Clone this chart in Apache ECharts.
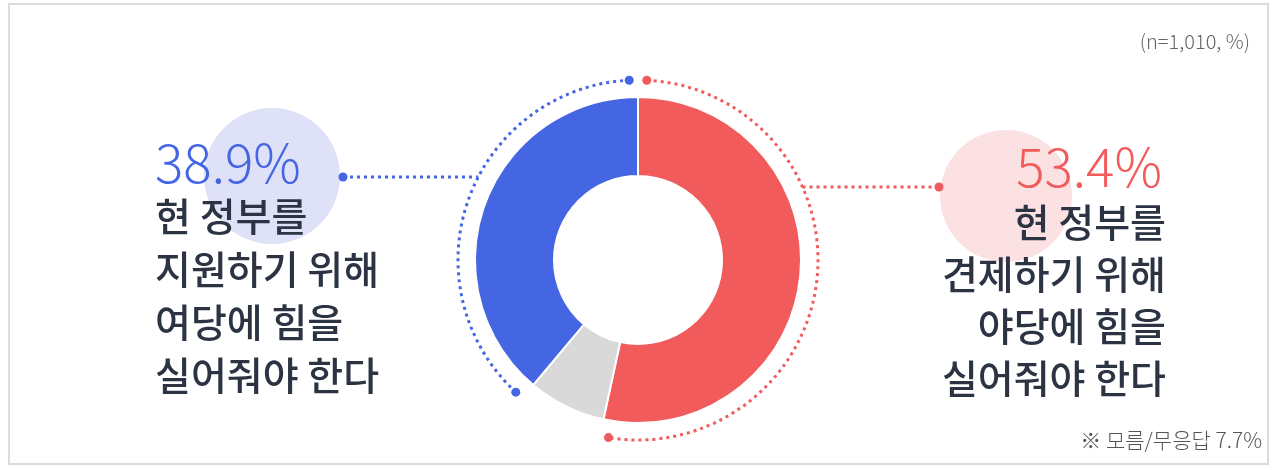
<!DOCTYPE html>
<html>
<head>
<meta charset="UTF-8">
<script src="https://cdn.jsdelivr.net/npm/echarts@6/dist/echarts.min.js"></script>
<style>
html, body { margin: 0; padding: 0; background: #fff; }
#main { width: 1280px; height: 470px; }
</style>
</head>
<body>
<div id="main"></div>
<script>
// 응답 항목 (파이 순서: 12시 방향부터 시계방향)
var categories = ['현 정부를 견제하기 위해 야당에 힘을 실어줘야 한다', '모름/무응답', '현 정부를 지원하기 위해 여당에 힘을 실어줘야 한다'];
var values = [53.4, 7.7, 38.9];
var colors = ['#f25b5b', '#d9d9d9', '#4566e2'];

var leftLines = ['현 정부를', '지원하기 위해', '여당에 힘을', '실어줘야 한다'];
var rightLines = ['현 정부를', '견제하기 위해', '야당에 힘을', '실어줘야 한다'];
var note = '(n=1,010, %)';
var footNote = '※ 모름/무응답 ' + values[1] + '%';

var cx = 638, cy = 260, ringR = 180;
var FONT = '"Noto Sans CJK KR", "Noto Sans", sans-serif';

var total = values.reduce(function (a, b) { return a + b; }, 0);
var cum = [0];
values.forEach(function (v, i) { cum.push(cum[i] + v / total); });

function ang(f) { return f * Math.PI * 2 - Math.PI / 2; }
function pt(a) { return [cx + ringR * Math.cos(a), cy + ringR * Math.sin(a)]; }

var gap = 2.8 * Math.PI / 180;
var graphics = [];

// 테두리
graphics.push({
    type: 'rect', z: 0,
    shape: { x: 9, y: 4, width: 1259, height: 460 },
    style: { fill: null, stroke: '#dcdcdc', lineWidth: 2 }
});

// 바깥 점선 호 (빨강, 파랑)
[0, 2].forEach(function (i) {
    var a0 = ang(cum[i]) + gap, a1 = ang(cum[i + 1]) - gap;
    graphics.push({
        type: 'arc', z: 5,
        shape: { cx: cx, cy: cy, r: ringR, startAngle: a0, endAngle: a1, clockwise: true },
        style: { fill: null, stroke: colors[i], lineWidth: 3, lineDash: [3, 4], lineCap: 'butt' }
    });
    [a0, a1].forEach(function (a) {
        var p = pt(a);
        graphics.push({
            type: 'circle', z: 6,
            shape: { cx: p[0], cy: p[1], r: 4.5 },
            style: { fill: colors[i] }
        });
    });
});

// 연결선
var ly = 177, ry = 187;
var lx = cx - Math.sqrt(ringR * ringR - (cy - ly) * (cy - ly));
var rx = cx + Math.sqrt(ringR * ringR - (cy - ry) * (cy - ry));
graphics.push(
    { type: 'line', z: 5, shape: { x1: 343, y1: ly, x2: lx, y2: ly },
      style: { stroke: colors[2], lineWidth: 3, lineDash: [3, 4] } },
    { type: 'circle', z: 6, shape: { cx: 343, cy: ly, r: 4.5 }, style: { fill: colors[2] } },
    { type: 'line', z: 5, shape: { x1: rx, y1: ry, x2: 939, y2: ry },
      style: { stroke: colors[0], lineWidth: 3, lineDash: [3, 4] } },
    { type: 'circle', z: 6, shape: { cx: 939, cy: ry, r: 4.5 }, style: { fill: colors[0] } }
);

// 배경 원
graphics.push(
    { type: 'circle', z: 1, shape: { cx: 272, cy: 176, r: 68 }, style: { fill: '#dee1f8' } },
    { type: 'circle', z: 1, shape: { cx: 1006, cy: 196, r: 66 }, style: { fill: '#fce1e3' } }
);

// 퍼센트 텍스트
graphics.push(
    { type: 'text', z: 10, style: { text: values[2] + '%', x: 155, y: 163, font: '300 53px ' + FONT,
      fill: colors[2], textAlign: 'left', textVerticalAlign: 'middle' } },
    { type: 'text', z: 10, style: { text: values[0] + '%', x: 1162, y: 167, font: '300 53px ' + FONT,
      fill: colors[0], textAlign: 'right', textVerticalAlign: 'middle' } }
);

leftLines.forEach(function (t, i) {
    graphics.push({ type: 'text', z: 10, style: { text: t, x: 155, y: 216 + i * 53,
        font: '500 39px ' + FONT, fill: '#2c3443', textAlign: 'left', textVerticalAlign: 'middle' } });
});
rightLines.forEach(function (t, i) {
    graphics.push({ type: 'text', z: 10, style: { text: t, x: 1166, y: 222 + i * 52,
        font: '500 39px ' + FONT, fill: '#2c3443', textAlign: 'right', textVerticalAlign: 'middle' } });
});

graphics.push(
    { type: 'text', z: 10, style: { text: note, x: 1250, y: 41, font: '300 20px ' + FONT,
      fill: '#666', textAlign: 'right', textVerticalAlign: 'middle' } },
    { type: 'text', z: 10, style: { text: footNote, x: 1262, y: 440, font: '300 21px ' + FONT,
      fill: '#555', textAlign: 'right', textVerticalAlign: 'middle' } }
);

var chart = echarts.init(document.getElementById('main'));
chart.setOption({
    animation: false,
    graphic: graphics,
    series: [{
        type: 'pie',
        center: [cx, cy],
        radius: [84, 163],
        startAngle: 90,
        clockwise: true,
        label: { show: false },
        labelLine: { show: false },
        itemStyle: { borderColor: '#fff', borderWidth: 2 },
        data: categories.map(function (c, i) {
            return { name: c, value: values[i], itemStyle: { color: colors[i] } };
        })
    }]
});
</script>
</body>
</html>
